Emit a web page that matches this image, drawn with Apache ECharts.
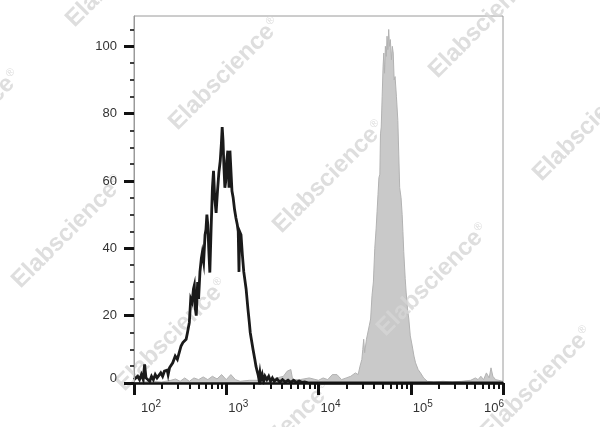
<!DOCTYPE html>
<html><head><meta charset="utf-8">
<script src="https://cdn.jsdelivr.net/npm/echarts@6/dist/echarts.min.js"></script>
<style>html,body{margin:0;padding:0;background:#fff}#c{width:600px;height:427px}</style>
</head><body><div id="c"></div>
<script>
// x positions are log10 of fluorescence intensity; counts are histogram heights
const xDecadeExponents = [2, 3, 4, 5, 6];
const yTickValues = [0, 20, 40, 60, 80, 100];

const blackExp = [2.00,2.02,2.04,2.06,2.08,2.10,2.115,2.13,2.15,2.17,2.19,2.21,2.23,2.25,2.27,2.29,2.31,2.33,2.35,2.36,
  2.37,2.385,2.40,2.42,2.447,2.47,2.49,2.51,2.53,2.55,2.565,2.58,2.60,2.615,2.63,2.645,2.654,2.665,2.675,2.69,
  2.70,2.715,2.73,2.74,2.755,2.77,2.78,2.79,2.80,2.81,2.822,2.835,2.85,2.862,2.875,2.89,2.905,2.92,2.935,2.947,
  2.956,2.965,2.975,2.985,2.995,3.005,3.017,3.03,3.04,3.054,3.062,3.075,3.09,3.105,3.12,3.13,3.138,3.145,3.16,3.175,
  3.19,3.20,3.215,3.235,3.25,3.26,3.272,3.29,3.31,3.322,3.335,3.345,3.355,3.365,3.375,3.39,3.405,3.42,3.44,3.46,
  3.48,3.50,3.52,3.55,3.58,3.61,3.64,3.67,3.70,3.73,3.76,3.79,3.82,3.85,3.9,4.0,4.2,4.5,5.0,5.5,
  6.0];
const blackCount = [1,0.5,2,1,2.5,1,5.5,1.5,2,0.5,2,1,2.5,1.5,2,3,2,3.5,3,3.8,
  2.5,4.5,5,6,8,7,9,11,12,12.5,13,15,18,25,24,28,29,22,20,30,
  25,33,37,38.7,36,44,45.6,50,47,40,32.8,45,58,63,55,50.5,57,62.5,66,71,
  76,72,64,58,60,66,69,58,69,69,57,55,51.5,49,47,45,33,45,44,38,
  33,31,28,22,18,15,13,10,7,5,3.5,2.5,1,3,1,2.5,0.5,2,1,2,
  0.5,1.5,0.5,1.2,0.3,1,0.3,0.8,0.2,0.8,0.2,0.6,0.2,0.3,0,0,0,0,0,0,
  0];

const grayExp = [2.00,2.10,2.20,2.30,2.40,2.45,2.50,2.55,2.60,2.65,2.70,2.75,2.80,2.85,2.90,2.95,3.00,3.05,3.10,3.15,
  3.25,3.35,3.45,3.55,3.62,3.66,3.70,3.72,3.80,3.90,4.00,4.05,4.10,4.15,4.20,4.25,4.30,4.35,4.40,4.43,
  4.45,4.47,4.48,4.49,4.50,4.52,4.55,4.565,4.58,4.595,4.61,4.625,4.635,4.645,4.655,4.665,4.672,4.68,4.69,4.70,
  4.708,4.716,4.725,4.735,4.743,4.752,4.761,4.77,4.779,4.79,4.80,4.81,4.82,4.83,4.845,4.86,4.87,4.88,4.895,4.907,
  4.915,4.924,4.94,4.95,4.965,4.979,4.995,5.016,5.035,5.052,5.08,5.106,5.14,5.18,5.25,5.35,5.45,5.55,5.65,5.70,
  5.73,5.76,5.79,5.82,5.85,5.87,5.89,5.92,6.00];
const grayCount = [0,0.3,0.5,0.3,0.8,1.2,0.5,1.5,0.5,1.5,1,1.8,1,2,1.2,2.5,1,2.5,1,0.5,
  0.8,0.8,1,1.5,2,3.5,4,1,1,1.5,0.8,1.5,1,2.5,2.5,1,1.5,2,3,2.5,
  5,7,10,13,9,13,17,19,26,30,40,46,51,56,61,62,74,76,85,94,
  98,92,100,97,103,99,105,100,102,96,100,98,90,91,85,78,68,58,55,50,
  45,39,31,27,22,19,14,11,8,6,4,3,1.5,0.5,0.3,0.5,0.3,0.5,0.8,1.5,
  1,2,1,3,1.5,4.5,2,1,0.5];

const watermarkWord = 'Elabscience';
const watermarkMark = '®';
// watermark centres (layout, not data)
const watermarkCentres = [[122,-29],[225,74],[329,177],[433,280],[537,383],
  [-35,126],[68,232],[172,335],[276,438],[381,-81],[485,22],[589,125]];

const toPoints = (ex, cnt) => ex.map((e, i) => [Math.pow(10, e), cnt[i]]);

const majorX = xDecadeExponents.map(e => Math.pow(10, e));
const minorX = [];
for (let d = xDecadeExponents[0]; d < xDecadeExponents[xDecadeExponents.length - 1]; d++) {
  for (let m = 2; m <= 9; m++) minorX.push(m * Math.pow(10, d));
}
const minorY = [];
for (let v = 0; v <= 105; v += 5) minorY.push(v);

const FONT = 'Liberation Sans, Arial, Helvetica, sans-serif';
const lastExp = xDecadeExponents[xDecadeExponents.length - 1];
const firstExp = xDecadeExponents[0];
const WM = 'rgba(214,214,214,0.8)';

const chart = echarts.init(document.getElementById('c'), null, {renderer: 'canvas'});
chart.setOption({
  animation: false,
  backgroundColor: '#ffffff',
  grid: {left: 134, right: 97, top: 16, bottom: 44, show: true, borderColor: '#9a9a9a', borderWidth: 1, backgroundColor: 'transparent'},
  graphic: watermarkCentres.map(([x, y]) => ({
    type: 'text', x: x, y: y, rotation: Math.PI / 4, z: 2, silent: true,
    style: {
      text: '{w|' + watermarkWord + '}{r|' + watermarkMark + '}',
      align: 'center', verticalAlign: 'middle',
      rich: {
        w: {fontFamily: FONT, fontSize: 24, fontWeight: 'bold', fill: WM},
        r: {fontFamily: FONT, fontSize: 11, fill: WM, padding: [0, 0, 11, 1]}
      }
    }
  })),
  xAxis: [
    {
      type: 'log', logBase: 10, min: majorX[0], max: majorX[majorX.length - 1], position: 'bottom', z: 5,
      axisLine: {show: true, onZero: false, lineStyle: {color: '#111', width: 2.5}},
      axisTick: {show: true, length: 12, lineStyle: {color: '#111', width: 3}, customValues: majorX},
      minorTick: {show: false}, splitLine: {show: false},
      axisLabel: {
        customValues: majorX, margin: 16, color: '#333', fontFamily: FONT, fontSize: 13,
        formatter: function (v) {
          const e = Math.round(Math.log10(v));
          if (e === lastExp) return '{b|10}{s|' + e + '}{sp2| }';
          if (e === firstExp) return '{sp1| }{b|10}{s|' + e + '}';
          return '{sp| }{b|10}{s|' + e + '}';
        },
        rich: {
          b: {fontFamily: FONT, fontSize: 13, color: '#333'},
          s: {fontFamily: FONT, fontSize: 10, color: '#333', padding: [0, 0, 8, 0]},
          sp: {width: 24}, sp1: {width: 34}, sp2: {width: 18}
        }
      }
    },
    {
      type: 'log', logBase: 10, min: majorX[0], max: majorX[majorX.length - 1], position: 'bottom', z: 5,
      axisLine: {show: false, onZero: false},
      axisTick: {show: true, length: 6, lineStyle: {color: '#111', width: 2}, customValues: minorX},
      axisLabel: {show: false}, splitLine: {show: false}, minorTick: {show: false}
    }
  ],
  yAxis: [
    {
      type: 'value', min: 0, max: 109, interval: 20, position: 'left', z: 5,
      axisLine: {show: true, onZero: false, lineStyle: {color: '#9a9a9a', width: 1}},
      axisTick: {show: true, length: 10, lineStyle: {color: '#111', width: 3}, customValues: yTickValues},
      splitLine: {show: false},
      axisLabel: {
        customValues: yTickValues, margin: 17, color: '#333', fontFamily: FONT, fontSize: 13,
        formatter: v => v === 0 ? '{z|0}' : String(v),
        rich: {z: {fontFamily: FONT, fontSize: 13, color: '#333', padding: [0, 0, 10, 0]}}
      }
    },
    {
      type: 'value', min: 0, max: 109, interval: 5, position: 'left', z: 5,
      axisLine: {show: false, onZero: false},
      axisTick: {show: true, length: 4, lineStyle: {color: '#111', width: 1.6}, customValues: minorY},
      axisLabel: {show: false}, splitLine: {show: false}
    }
  ],
  series: [
    {
      name: 'stained', type: 'line', xAxisIndex: 0, yAxisIndex: 0, z: 1,
      data: toPoints(grayExp, grayCount), symbol: 'none', smooth: false,
      lineStyle: {color: '#b2b2b2', width: 1},
      areaStyle: {color: '#c9c9c9', opacity: 1}
    },
    {
      name: 'control', type: 'line', xAxisIndex: 0, yAxisIndex: 0, z: 3,
      data: toPoints(blackExp, blackCount), symbol: 'none', smooth: false,
      lineStyle: {color: '#1a1a1a', width: 2.8, join: 'miter'}
    }
  ]
});
</script>
</body></html>
